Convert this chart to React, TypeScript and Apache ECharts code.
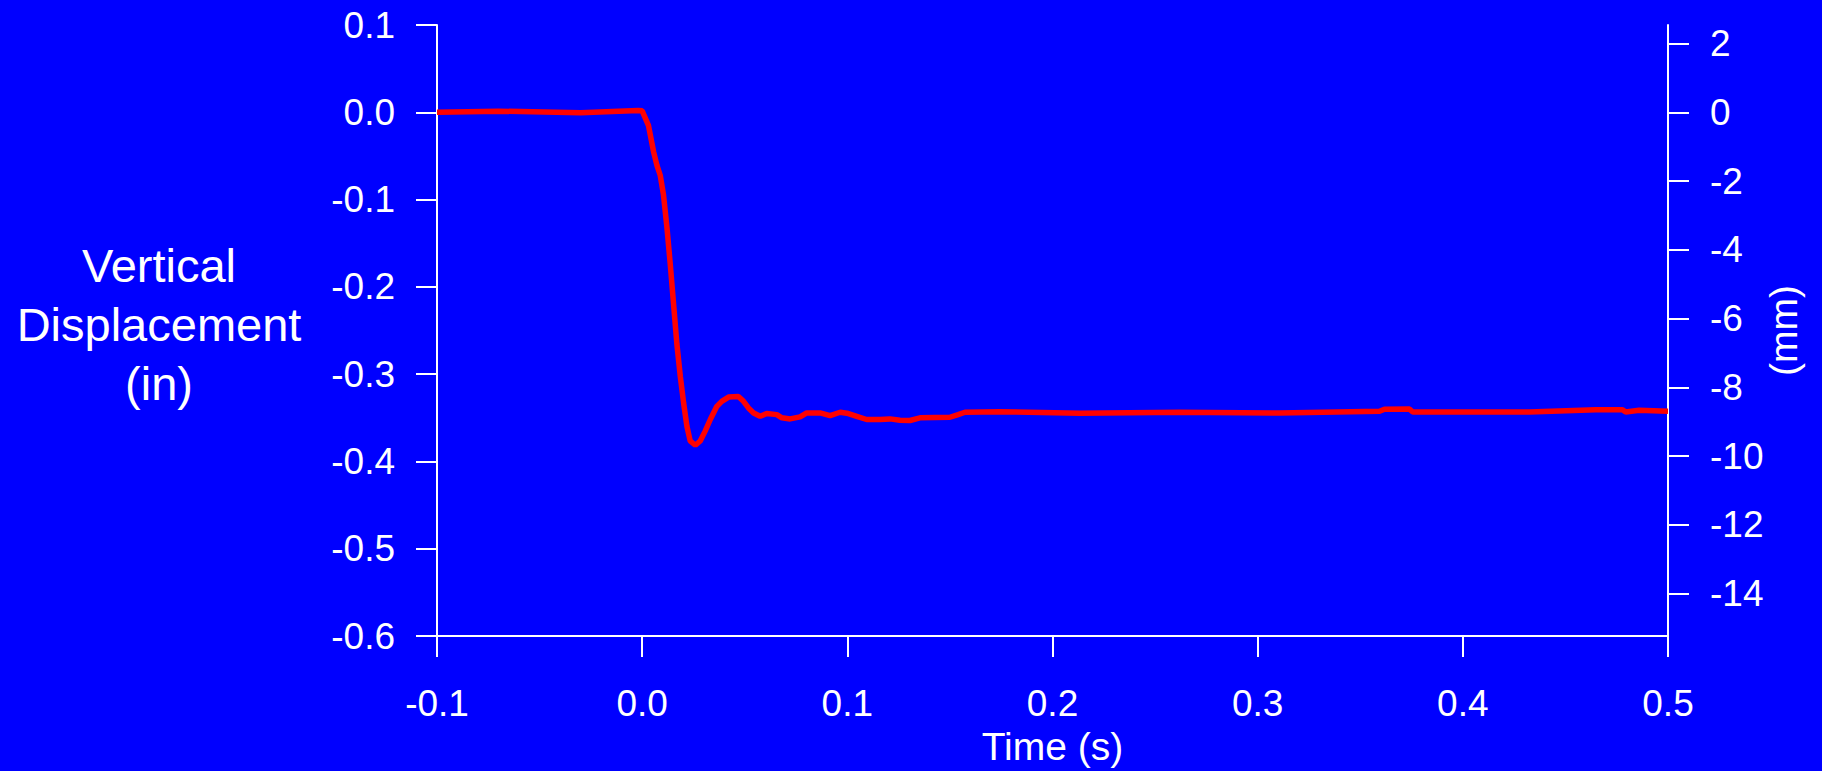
import React, { useEffect, useRef } from "react";
import * as echarts from "echarts";

const timeS = [
  -0.1, -0.07, -0.03, -0.002, 0.0, 0.0031, 0.0056, 0.0072, 0.0088, 0.0104, 0.0121, 0.0137, 0.0153,
  0.0169, 0.0186, 0.0202, 0.0218, 0.0234, 0.0259, 0.0283, 0.0307, 0.0332, 0.0364, 0.0388, 0.0421,
  0.0469, 0.0494, 0.0518, 0.0543, 0.0575, 0.0607, 0.0656, 0.0681, 0.0721, 0.077, 0.0802, 0.0867,
  0.0916, 0.0965, 0.1005, 0.1046, 0.1094, 0.1159, 0.1208, 0.1257, 0.1305, 0.1354, 0.15, 0.154,
  0.1573, 0.1743, 0.2133, 0.262, 0.3107, 0.3594, 0.3618, 0.374, 0.3756, 0.408, 0.4324, 0.4648,
  0.4778, 0.4794, 0.4859, 0.5,
];
const dispIn = [
  0.0, 0.0013, -0.0006, 0.002, 0.0017, -0.0153, -0.0456, -0.0607, -0.0721, -0.0948, -0.1326,
  -0.1742, -0.2196, -0.265, -0.3028, -0.333, -0.3595, -0.3765, -0.3814, -0.3765, -0.3652, -0.3519,
  -0.3368, -0.3311, -0.3262, -0.3255, -0.3311, -0.3387, -0.3444, -0.3482, -0.3451, -0.3463, -0.35,
  -0.3512, -0.3489, -0.3444, -0.3444, -0.3474, -0.3436, -0.3451, -0.3482, -0.3519, -0.3519,
  -0.3512, -0.3527, -0.353, -0.35, -0.3493, -0.3462, -0.3436, -0.3429, -0.3448, -0.3436, -0.3444,
  -0.3425, -0.3402, -0.34, -0.3433, -0.3433, -0.3433, -0.3407, -0.3407, -0.3433, -0.3414, -0.3425,
];
const mmTicks = [2, 0, -2, -4, -6, -8, -10, -12, -14];
const IN_MIN = -0.6;
const IN_MAX = 0.1;
const MM_PER_IN = 25.4;

const FONT = "'Liberation Sans', Arial, Helvetica, sans-serif";
const WHITE = "#ffffff";

export default function App() {
  const ref = useRef<HTMLDivElement>(null);
  useEffect(() => {
    document.body.style.margin = "0";
    document.body.style.background = "#0000ff";
    const chart = echarts.init(ref.current!, null, { renderer: "svg" });
    const axisLine = { show: true, onZero: false, lineStyle: { color: WHITE, width: 2 } };
    const axisTick = { show: true, length: 21, lineStyle: { color: WHITE, width: 2 } };
    chart.setOption({
      animation: false,
      backgroundColor: "#0000ff",
      textStyle: { fontFamily: FONT },
      grid: { left: 437, right: 154, top: 25, bottom: 129, containLabel: false },
      xAxis: {
        type: "value",
        min: -0.1,
        max: 0.5,
        interval: 0.1,
        name: "Time (s)",
        nameLocation: "middle",
        nameGap: 90,
        nameTextStyle: { color: WHITE, fontSize: 39, fontFamily: FONT },
        axisLine,
        axisTick,
        splitLine: { show: false },
        axisLabel: {
          color: WHITE,
          fontSize: 37,
          fontFamily: FONT,
          margin: 49,
          formatter: (v: number) => v.toFixed(1),
        },
      },
      yAxis: [
        {
          type: "value",
          position: "left",
          min: IN_MIN,
          max: IN_MAX,
          interval: 0.1,
          axisLine,
          axisTick,
          splitLine: { show: false },
          axisLabel: {
            color: WHITE,
            fontSize: 37,
            fontFamily: FONT,
            margin: 42,
            formatter: (v: number) => v.toFixed(1),
          },
        },
        {
          type: "value",
          position: "right",
          min: IN_MIN * MM_PER_IN,
          max: IN_MAX * MM_PER_IN,
          alignTicks: false,
          name: "(mm)",
          nameLocation: "middle",
          nameRotate: 90,
          nameGap: 96,
          nameMoveOverlap: false,
          nameTextStyle: { color: WHITE, fontSize: 39, fontFamily: FONT },
          axisLine,
          axisTick: { ...axisTick, customValues: mmTicks },
          splitLine: { show: false },
          axisLabel: {
            color: WHITE,
            fontSize: 37,
            fontFamily: FONT,
            margin: 42,
            customValues: mmTicks,
            formatter: (v: number) => String(v),
          },
        },
      ],
      graphic: [
        {
          type: "text",
          x: 159,
          y: 324,
          style: {
            text: "Vertical\nDisplacement\n(in)",
            fill: WHITE,
            font: `47px ${FONT}`,
            lineHeight: 59,
            align: "center",
            verticalAlign: "middle",
          },
        },
      ],
      series: [
        {
          type: "line",
          yAxisIndex: 0,
          data: timeS.map((t, i) => [t, dispIn[i]]),
          showSymbol: false,
          symbol: "none",
          lineStyle: { color: "#ff0000", width: 5.5 },
          itemStyle: { color: "#ff0000" },
        },
      ],
    });
    return () => chart.dispose();
  }, []);
  return (
    <div
      ref={ref}
      style={{ position: "fixed", left: 0, top: 0, width: 1822, height: 771 }}
    />
  );
}
